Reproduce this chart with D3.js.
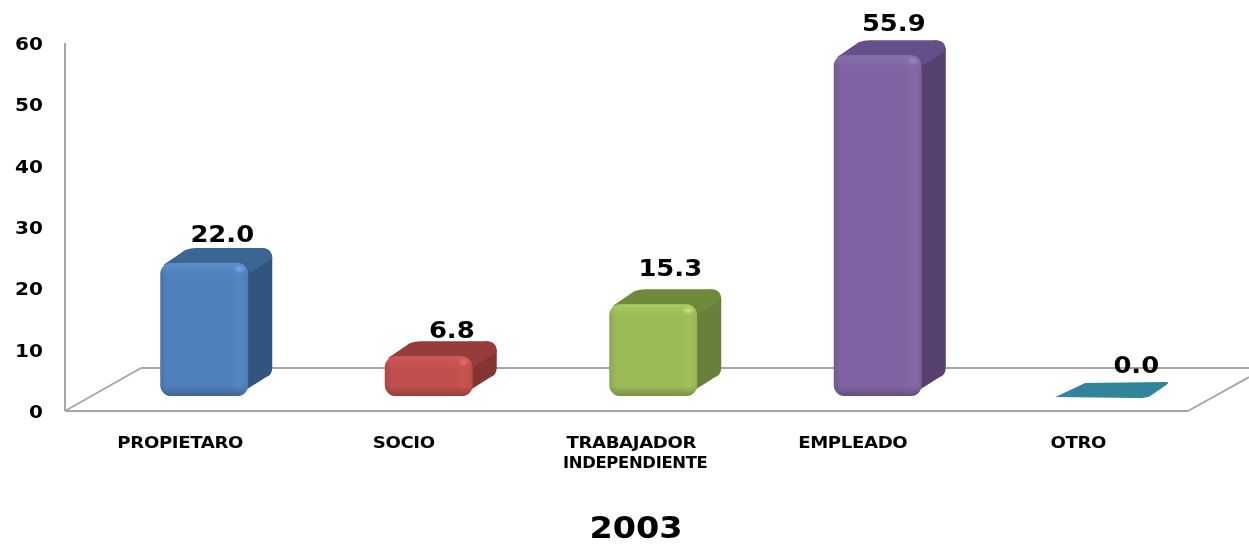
<!DOCTYPE html>
<html><head><meta charset="utf-8">
<style>html,body{margin:0;padding:0;background:#fff;overflow:hidden}svg{display:block}
text{font-family:"DejaVu Sans",Verdana,sans-serif;fill:#000;font-weight:bold}</style>
<script src="https://cdn.jsdelivr.net/npm/d3@7/dist/d3.min.js"></script>
</head><body><svg id="c" width="1249" height="545"></svg>
<script>
const categories=["PROPIETARO","SOCIO","TRABAJADOR|INDEPENDIENTE","EMPLEADO","OTRO"];
const values=[22.0,6.8,15.3,55.9,0.0];
const valueLabels=["22.0","6.8","15.3","55.9","0.0"];
const yTicks=[0,10,20,30,40,50,60];
const frontColors=["#4f81bd","#c0504d","#9bbb59","#8064a2","#31849b"];
const sideColors=["#335480","#843431","#68803a","#553f6e","#31849b"];
const topColors=["#3d6594","#963d3a","#708a3e","#65508a","#31849b"];
const edgeColors=["#6a9ad6","#dc625e","#b5d46e","#9279b8","#31849b"];
const title="2003";

// layout nudges, kept apart from the data
const labelDx=[18,23,17,16,34];
const labelDy=[0,3,-7,-3,0];
const catDx=[-24,-25,-23,-25,-24];

const svg=d3.select("#c");
const x=d3.scaleBand().domain(categories).range([92,1214.5]).paddingInner(0.608).paddingOuter(0.304);
const y=d3.scaleLinear().domain([0,60]).range([411,43]);
const depthX=24,depthY=15,lift=15,inset=2;

const defs=svg.append("defs");
const blur=defs.append("filter").attr("id","soft").attr("x","-10%").attr("y","-10%").attr("width","120%").attr("height","120%");
blur.append("feGaussianBlur").attr("stdDeviation",0.7);
const tblur=defs.append("filter").attr("id","tsoft").attr("x","-5%").attr("y","-10%").attr("width","110%").attr("height","120%");
tblur.append("feGaussianBlur").attr("stdDeviation",0.35);
frontColors.forEach((c,i)=>{
  const g=defs.append("linearGradient").attr("id","f"+i).attr("x1",0).attr("x2",1).attr("y1",0).attr("y2",0);
  const mid=d3.interpolateRgb(c,edgeColors[i])(0.2);
  [[0,d3.color(c).darker(0.3)],[0.08,c],[0.8,c],[0.9,mid],[0.97,c],[1,d3.color(c).darker(0.2)]]
    .forEach(s=>g.append("stop").attr("offset",s[0]).attr("stop-color",s[1]));
  const h=defs.append("radialGradient").attr("id","h"+i);
  h.append("stop").attr("offset",0).attr("stop-color",d3.color(edgeColors[i]).brighter(0.3));
  h.append("stop").attr("offset",1).attr("stop-color",edgeColors[i]).attr("stop-opacity",0);
});

// floor and wall
const floorColor="#a6a6a6";
const x0=65,x1=1188,y0=y(0),yBack=368,skew=76;
const line=(a,b,c,d)=>svg.append("line").attr("x1",a).attr("y1",b).attr("x2",c).attr("y2",d)
  .attr("stroke",floorColor).attr("stroke-width",2);
line(x0,y(60),x0,y0);
line(x0,y0,x1,y0);
line(x0,y0,x0+skew,yBack);
line(x0+skew,yBack,1249,yBack);
line(x1,y0,1249,377);

// y tick labels
svg.selectAll(".yt").data(yTicks).join("text").attr("class","yt")
  .attr("text-anchor","end").attr("font-size",17).attr("filter","url(#tsoft)")
  .attr("transform",d=>`translate(43,${y(d)+7}) scale(1.18,1)`).text(d=>d);

// bars
const bars=svg.selectAll(".bar").data(categories).join("g").attr("class","bar").attr("filter","url(#soft)");
bars.each(function(cat,i){
  const g=d3.select(this),v=values[i],l=x(cat),w=x.bandwidth(),r=l+w;
  const base=y(0)-lift;
  if(v===0){
    const p=d3.path();
    p.moveTo(l-3,base+1);p.lineTo(l+depthX+3,base-13);p.lineTo(r+depthX-4,base-14);
    p.quadraticCurveTo(r+depthX,base-14,r+depthX-4,base-11);
    p.lineTo(r+4,base);p.quadraticCurveTo(r,base+2,r-8,base+2);p.closePath();
    g.append("path").attr("d",p.toString()).attr("fill",frontColors[i]);
    return;
  }
  const t=y(v)-lift+inset;
  const h=base-t;
  const rad=Math.min(11,h/3);
  // side
  const s=d3.path();
  s.moveTo(r-10,t);s.lineTo(r+depthX-rad,t-depthY);s.quadraticCurveTo(r+depthX,t-depthY,r+depthX,t-depthY+rad);
  s.lineTo(r+depthX,base-depthY-14);s.quadraticCurveTo(r+depthX,base-depthY-6,r+depthX-6,base-19);
  s.lineTo(r-12,base);s.closePath();
  g.append("path").attr("d",s.toString()).attr("fill",sideColors[i]);
  // top
  const o=d3.path();
  o.moveTo(l+3,t+2);o.lineTo(l+25,t-depthY+2);o.quadraticCurveTo(l+30,t-depthY,l+36,t-depthY);
  o.lineTo(r+depthX-rad,t-depthY);o.quadraticCurveTo(r+depthX,t-depthY,r+depthX,t-depthY+rad);
  o.lineTo(r+depthX-4,t-depthY+rad+2);o.lineTo(r+2,t+10);o.lineTo(r-4,t+2);o.closePath();
  g.append("path").attr("d",o.toString()).attr("fill",topColors[i]);
  // front
  g.append("rect").attr("x",l).attr("y",t).attr("width",w).attr("height",h).attr("rx",rad).attr("fill",`url(#f${i})`);
  // vertical shading of the same rounded face, light rim on top and dark rim below
  const v2=defs.append("linearGradient").attr("id","v"+i).attr("x1",0).attr("x2",0).attr("y1",0).attr("y2",1);
  const dark=d3.color(frontColors[i]).darker(0.7);
  [[0,edgeColors[i],0.5],[12/h,edgeColors[i],0],[1-10/h,dark,0],[1,dark,1]]
    .forEach(a=>v2.append("stop").attr("offset",a[0]).attr("stop-color",a[1]).attr("stop-opacity",a[2]));
  g.append("rect").attr("x",l).attr("y",t).attr("width",w).attr("height",h).attr("rx",rad).attr("fill",`url(#v${i})`);
  g.append("ellipse").attr("cx",r-9).attr("cy",t+6).attr("rx",7).attr("ry",5).attr("fill",`url(#h${i})`);
});

// value labels
svg.selectAll(".val").data(categories).join("text").attr("class","val")
  .attr("text-anchor","middle").attr("font-size",23.5).attr("filter","url(#tsoft)")
  .attr("transform",(c,i)=>{
    const px=x(c)+x.bandwidth()/2+labelDx[i];
    const py=values[i]===0?373:y(values[i])-lift+inset-depthY-6+labelDy[i];
    return `translate(${px},${py}) scale(1.1,1)`;
  })
  .text((c,i)=>valueLabels[i]);

// category labels
svg.selectAll(".cat").data(categories).join("g").attr("class","cat")
  .each(function(c,i){
    const cx=x(c)+x.bandwidth()/2+catDx[i];
    const two=c.includes("|");
    c.split("|").forEach((s,j)=>d3.select(this).append("text")
      .attr("text-anchor","middle").attr("font-size",15).attr("letter-spacing",-0.3).attr("filter","url(#tsoft)")
      .attr("transform",`translate(${cx+(j===1?5:(two?1:0))},${447.5+j*20}) scale(${j===1?1.095:1.21},1)`).text(s));
  });

svg.append("text").attr("text-anchor","middle").attr("font-size",31).attr("filter","url(#tsoft)")
  .attr("transform","translate(636,537.5) scale(1.08,1)").text(title);
</script></body></html>
